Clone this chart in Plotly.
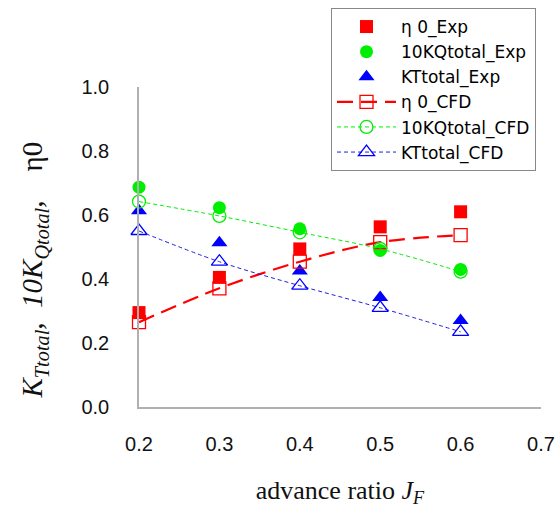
import plotly.graph_objects as go

# advance ratio J_F
J = [0.2, 0.3, 0.4, 0.5, 0.6]

# experiment
eta0_exp = [0.295, 0.405, 0.494, 0.563, 0.610]
kq10_exp = [0.687, 0.623, 0.557, 0.489, 0.430]
kt_exp = [0.613, 0.513, 0.425, 0.342, 0.270]

# CFD
eta0_cfd = [0.265, 0.371, 0.454, 0.515, 0.537]
kq10_cfd = [0.642, 0.597, 0.546, 0.494, 0.423]
kt_cfd = [0.550, 0.454, 0.379, 0.310, 0.235]

x_ticks = [0.2, 0.3, 0.4, 0.5, 0.6, 0.7]
y_ticks = [0.0, 0.2, 0.4, 0.6, 0.8, 1.0]

RED = "#FF0000"
GREEN = "#00EE00"
BLUE = "#0000FF"

fig = go.Figure()

fig.add_trace(go.Scatter(
    x=J, y=eta0_exp, mode="markers", name="η 0_Exp",
    marker=dict(symbol="square", size=13, color=RED), cliponaxis=False))
fig.add_trace(go.Scatter(
    x=J, y=kq10_exp, mode="markers", name="10KQtotal_Exp",
    marker=dict(symbol="circle", size=13, color=GREEN), cliponaxis=False))
fig.add_trace(go.Scatter(
    x=J, y=kt_exp, mode="markers", name="KTtotal_Exp",
    marker=dict(symbol="triangle-up", size=14, color=BLUE), cliponaxis=False))

fig.add_trace(go.Scatter(
    x=J, y=eta0_cfd, mode="lines+markers", name="η 0_CFD",
    line=dict(color=RED, width=2.2, dash="16px,8px", shape="spline"),
    marker=dict(symbol="square-open", size=13, color=RED, line=dict(width=1.3)),
    cliponaxis=False))
fig.add_trace(go.Scatter(
    x=J, y=kq10_cfd, mode="lines+markers", name="10KQtotal_CFD",
    line=dict(color=GREEN, width=1, dash="4px,3px", shape="spline"),
    marker=dict(symbol="circle-open", size=13, color=GREEN, line=dict(width=1.3)),
    cliponaxis=False))
fig.add_trace(go.Scatter(
    x=J, y=kt_cfd, mode="lines+markers", name="KTtotal_CFD",
    line=dict(color="#2020DD", width=1, dash="4px,3px", shape="spline"),
    marker=dict(symbol="triangle-up-open", size=14, color=BLUE, line=dict(width=1.3)),
    cliponaxis=False))

axis_font = dict(family="Liberation Sans, Arial, sans-serif", size=20, color="#111111")

y_title = "<i>K</i><sub><i>Ttotal</i></sub><i>,  10K</i><sub><i>Qtotal</i></sub><i>,</i>    η0"

fig.update_layout(
    width=556, height=508,
    margin=dict(l=139, r=15, t=87, b=101, autoexpand=False),
    paper_bgcolor="white", plot_bgcolor="white",
    showlegend=True,
    legend=dict(
        xref="container", yref="container",
        x=331 / 556, y=1 - 8 / 508, xanchor="left", yanchor="top",
        bgcolor="white", bordercolor="#888888", borderwidth=1,
        font=dict(family="DejaVu Sans, sans-serif", size=17, color="#000000"),
        itemwidth=59, tracegroupgap=0,
    ),
    xaxis=dict(
        range=[0.2, 0.7], tickvals=x_ticks, ticktext=[f"{v:.1f}" for v in x_ticks],
        showgrid=False, zeroline=False, showline=True, linecolor="#B0B0B0", linewidth=1.5,
        ticks="", ticklabelstandoff=18, tickfont=axis_font,
        title=dict(text="advance ratio <i>J</i><sub><i>F</i></sub>",
                   font=dict(family="Liberation Serif, Times New Roman, serif", size=26, color="#111111"),
                   standoff=30),
    ),
    yaxis=dict(
        range=[0.0, 1.0], tickvals=y_ticks, ticktext=[f"{v:.1f}" for v in y_ticks],
        showgrid=False, zeroline=False, showline=True, linecolor="#B0B0B0", linewidth=1.5,
        ticks="", ticklabelstandoff=24, tickfont=axis_font,
    ),
    annotations=[dict(
        text=y_title, textangle=-90, showarrow=False,
        xref="paper", yref="paper", x=-0.26, y=0.428,
        xanchor="center", yanchor="middle",
        font=dict(family="Liberation Serif, Times New Roman, serif", size=29, color="#111111"),
    )],
)

fig.write_html("out.html")
